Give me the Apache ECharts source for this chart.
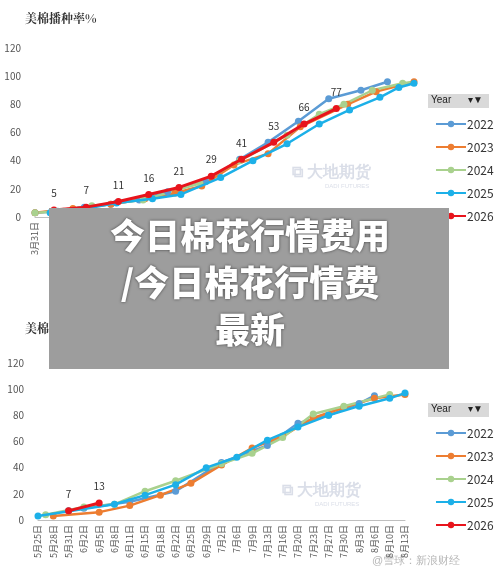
<!DOCTYPE html>
<html>
<head>
<meta charset="UTF-8">
<script src="https://cdn.jsdelivr.net/npm/echarts@6/dist/echarts.min.js"></script>
<style>body{margin:0;background:#fff}#main{width:500px;height:578px}</style>
</head>
<body>
<div id="main"></div>
<script>
// 播种率 (上图) 横轴标签
var plantLabels = ['3月31日','4月5日','4月9日','4月12日','4月16日','4月19日','4月23日','4月26日','4月30日','5月3日','5月7日',
  '5月10日','5月14日','5月17日','5月21日','5月24日','5月28日','5月31日','6月7日','6月14日','6月29日'];
// 现蕾率 (下图) 横轴标签
var squareLabels = ['5月25日','5月28日','5月31日','6月2日','6月5日','6月8日','6月11日','6月15日','6月18日','6月22日','6月25日',
  '6月29日','7月2日','7月6日','7月9日','7月13日','7月16日','7月20日','7月23日','7月27日','7月30日','8月3日','8月6日','8月10日','8月13日'];
var years = ['2022','2023','2024','2025','2026'];
var colors = ['#5b9bd5','#ed7d31','#a9d18e','#1cb0e8','#e8141c'];

// [横轴位置, 数值]
var plant2022 = [[0,3],[1.2,4],[2.6,7],[4,9],[5.5,12],[7,18],[9,25],[10.8,41],[12.3,53],[13.9,68],[15.5,84],[17.2,90],[18.6,96]];
var plant2023 = [[0,3],[2,6],[4,9],[5.8,13],[7.4,17],[8.8,22],[10.5,37],[12.3,45],[14,64],[16.5,80],[18,89],[20,96]];
var plant2024 = [[0,3],[1.5,4],[3,8],[5.7,12],[8.7,24],[10.8,40],[13.3,58],[15,73],[16.3,80],[17.8,90],[19.4,95],[20.6,97]];
var plant2025 = [[0.8,3],[2.3,5],[4.3,10],[6.2,13],[7.7,16],[9.8,28],[11.5,40],[13.3,52],[15,66],[16.6,76],[18.2,85],[19.2,92],[20,95]];
var plant2026 = [[1,5],[2.7,7],[4.4,11],[6,16],[7.6,21],[9.3,29],[10.9,41],[12.6,53],[14.2,66],[15.9,77]];

var sq2022 = [[2,7],[3,9],[6,14],[9,22],[12,44],[15,57],[17,74],[19,80],[21,89],[22,95]];
var sq2023 = [[1,3],[4,6],[6,11],[8,19],[10,28],[12,42],[14,55],[16,64],[18,78],[20,86],[22,93],[24,96]];
var sq2024 = [[0.5,4],[3,10],[5,12],[7,22],[9,30],[12,43],[14,51],[16,63],[18,81],[20,87],[23,96]];
var sq2025 = [[0,3],[5,12],[7,19],[9,27],[11,40],[13,48],[15,61],[17,71],[19,80],[21,87],[23,93],[24,97]];
var sq2026 = [[2,7],[4,13]];

var plantData = [plant2022, plant2023, plant2024, plant2025, plant2026];
var squareData = [sq2022, sq2023, sq2024, sq2025, sq2026];

var myChart = echarts.init(document.getElementById('main'));
var font = 'Noto Sans CJK SC';

function xAxisFor(labels, gi){
  return {
    type: 'value', gridIndex: gi, min: 0, max: labels.length - 1, interval: 1,
    axisLine: {lineStyle: {color: '#bfbfbf'}}, axisTick: {show: false}, splitLine: {show: false},
    axisLabel: {rotate: 90, fontSize: 9, color: '#555', fontFamily: font, margin: 5,
      formatter: function(v){ return labels[Math.round(v)] || ''; }}
  };
}
function yAxisFor(gi){
  return {
    type: 'value', gridIndex: gi, min: 0, max: 120, interval: 20,
    axisLine: {show: false}, axisTick: {show: false}, splitLine: {show: false},
    axisLabel: {fontSize: 10, color: '#555', margin: 14}
  };
}

var series = [];
years.forEach(function(y, i){
  [plantData[i], squareData[i]].forEach(function(d, gi){
    var s = {
      name: y, type: 'line', xAxisIndex: gi, yAxisIndex: gi, data: d,
      symbol: 'circle', symbolSize: 7, lineStyle: {width: 2.5, color: colors[i]},
      itemStyle: {color: colors[i]}, z: i === 4 ? 10 : 2 + (i === 3 ? 1 : 0)
    };
    if (i === 4) {
      s.label = {show: true, position: 'top', distance: 8, fontSize: 10, color: '#333'};
      s.lineStyle.width = 3;
    }
    series.push(s);
  });
});

function legendAt(top){
  return {
    orient: 'vertical', left: 430, top: top, itemWidth: 30, itemHeight: 8, itemGap: 11,
    data: years, textStyle: {fontSize: 12, color: '#333', padding: [0, 0, 0, -4]}, selectedMode: false
  };
}

var option = {
  animation: false,
  textStyle: {fontFamily: font},
  grid: [
    {left: 35, right: 86, top: 48, height: 169},
    {left: 38, right: 95, top: 363, height: 157}
  ],
  xAxis: [xAxisFor(plantLabels, 0), xAxisFor(squareLabels, 1)],
  yAxis: [yAxisFor(0), yAxisFor(1)],
  legend: [legendAt(113), legendAt(422)],
  series: series,
  graphic: [
    {type: 'text', left: 25, top: 12, style: {text: '美棉播种率%', fontSize: 12, fontWeight: 'bold', fill: '#333', fontFamily: 'Noto Serif CJK SC, ' + font}},
    {type: 'text', left: 25, top: 322, style: {text: '美棉现蕾率%', fontSize: 12, fontWeight: 'bold', fill: '#333', fontFamily: 'Noto Serif CJK SC, ' + font}},
    // Year 筛选框
    {type: 'rect', left: 428, top: 94, shape: {width: 61, height: 14}, style: {fill: '#d9d9d9'}},
    {type: 'text', left: 431, top: 95, style: {text: 'Year      ▾▼', fontSize: 10, fill: '#222'}},
    {type: 'rect', left: 428, top: 403, shape: {width: 61, height: 14}, style: {fill: '#d9d9d9'}},
    {type: 'text', left: 431, top: 404, style: {text: 'Year      ▾▼', fontSize: 10, fill: '#222'}},
    // 水印
    {type: 'text', left: 292, top: 165, z: 0, style: {text: '⧉ 大地期货', fontSize: 16, fontWeight: 'bold', fill: 'rgba(150,160,190,0.35)'}},
    {type: 'text', left: 325, top: 183, z: 0, style: {text: 'DADI FUTURES', fontSize: 6, fill: 'rgba(150,160,190,0.35)'}},
    {type: 'text', left: 282, top: 483, z: 0, style: {text: '⧉ 大地期货', fontSize: 16, fontWeight: 'bold', fill: 'rgba(150,160,190,0.35)'}},
    {type: 'text', left: 315, top: 501, z: 0, style: {text: 'DADI FUTURES', fontSize: 6, fill: 'rgba(150,160,190,0.35)'}},
    {type: 'text', left: 372, top: 555, style: {text: '@雪球：新浪财经', fontSize: 11, fill: 'rgba(120,120,120,0.55)'}},
    // 标题横幅
    {type: 'rect', left: 49, top: 208, z: 50, shape: {width: 400, height: 161}, style: {fill: '#9d9d9d'}},
    {type: 'text', left: 'center', top: 218, z: 51, style: {text: '今日棉花行情费用', fontSize: 35, fontWeight: 900, fill: '#fff', fontFamily: font, textShadowColor: 'rgba(0,0,0,0.6)', textShadowBlur: 3}},
    {type: 'text', left: 'center', top: 265, z: 51, style: {text: '/今日棉花行情费', fontSize: 35, fontWeight: 900, fill: '#fff', fontFamily: font, textShadowColor: 'rgba(0,0,0,0.6)', textShadowBlur: 3}},
    {type: 'text', left: 'center', top: 312, z: 51, style: {text: '最新', fontSize: 35, fontWeight: 900, fill: '#fff', fontFamily: font, textShadowColor: 'rgba(0,0,0,0.6)', textShadowBlur: 3}}
  ]
};
myChart.setOption(option);
</script>
</body>
</html>
